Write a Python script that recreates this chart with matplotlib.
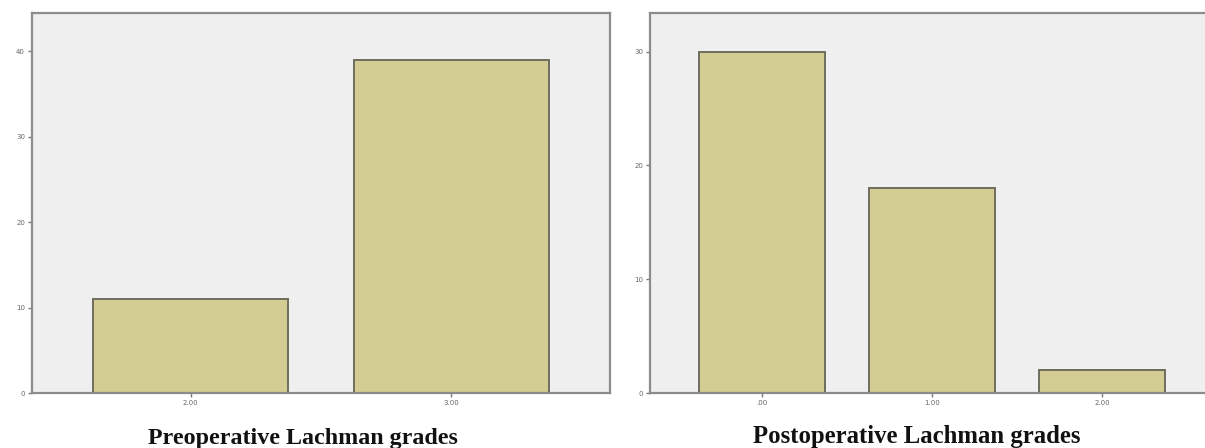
import numpy as np
import matplotlib.pyplot as plt

# Preoperative Lachman grades
pre_grades = ["2.00", "3.00"]
pre_counts = [11, 39]

# Postoperative Lachman grades
post_grades = [".00", "1.00", "2.00"]
post_counts = [30, 18, 2]

bar_color = '#d3cd93'
edge_color = '#6f6d5c'
spine_color = '#8c8c8c'

fig = plt.figure(figsize=(12.05, 4.48), dpi=100)
fig.patch.set_facecolor('white')


def style_axes(ax):
    ax.set_facecolor('#efefef')
    for s in ax.spines.values():
        s.set_color(spine_color)
        s.set_linewidth(1.6)
    ax.tick_params(axis='both', direction='out', length=3, width=1,
                   color='#777777', labelsize=5, labelcolor='#666666', pad=2)


ax1 = fig.add_axes([32 / 1205, 1 - 393 / 448, 578 / 1205, 380 / 448])
style_axes(ax1)
x1 = np.arange(len(pre_grades))
ax1.bar(x1, pre_counts, width=0.75, color=bar_color, edgecolor=edge_color, linewidth=1.4)
ax1.set_xticks(x1)
ax1.set_xticklabels(pre_grades)
ax1.set_yticks([0, 10, 20, 30, 40])
ax1.set_xlim(-0.61, 1.61)
ax1.set_ylim(0, 44.5)

ax2 = fig.add_axes([650 / 1205, 1 - 393 / 448, 564 / 1205, 380 / 448])
style_axes(ax2)
x2 = np.arange(len(post_grades))
ax2.bar(x2, post_counts, width=0.74, color=bar_color, edgecolor=edge_color, linewidth=1.4)
ax2.set_xticks(x2)
ax2.set_xticklabels(post_grades)
ax2.set_yticks([0, 10, 20, 30])
ax2.set_xlim(-0.66, 2.66)
ax2.set_ylim(0, 33.4)

fig.text(303 / 1205, 1 - 438 / 448, 'Preoperative Lachman grades', ha='center', va='center',
         family='Liberation Serif', weight='bold', fontsize=17.3, color='#111111')
fig.text(917 / 1205, 1 - 436 / 448, 'Postoperative Lachman grades', ha='center', va='center',
         family='Liberation Serif', weight='bold', fontsize=17.8, color='#111111')

fig.savefig('out.png', dpi=100)
